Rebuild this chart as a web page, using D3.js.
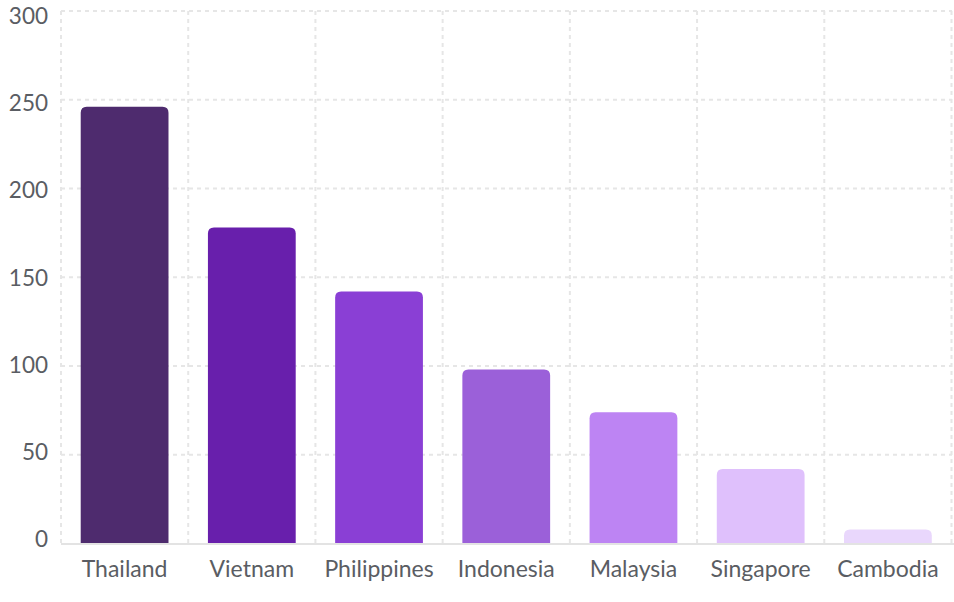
<!DOCTYPE html>
<html>
<head>
<meta charset="utf-8">
<script src="https://cdn.jsdelivr.net/npm/d3@7"></script>
<style>
  body { margin: 0; background: #fff; }
  text { font-family: Lato, "Open Sans", sans-serif; fill: #5a5d63; }
</style>
</head>
<body>
<script>
const width = 954, height = 602;
const margin = {top: 11, right: 2, bottom: 59, left: 61};

const countries = ["Thailand", "Vietnam", "Philippines", "Indonesia", "Malaysia", "Singapore", "Cambodia"];
const values = [246, 178, 142, 98, 74, 42, 8];
const colors = ["#4e2b6e", "#681fac", "#8a3fd5", "#9b60d9", "#bd84f3", "#dfc0fc", "#e9d7fc"];
const yTicks = [0, 50, 100, 150, 200, 250, 300];

const svg = d3.select("body").append("svg")
  .attr("width", width)
  .attr("height", height);

const x = d3.scaleBand()
  .domain(countries)
  .range([margin.left, width - margin.right - 0.5])
  .paddingInner(0.31)
  .paddingOuter(0.155);

const y = d3.scaleLinear()
  .domain([0, 300])
  .range([height - margin.bottom + 0.6, margin.top]);

// tick labels sit on a slightly tighter spacing than the grid
const yLabel = d3.scaleLinear()
  .domain([0, 300])
  .range([547, 24]);

// grid
const grid = svg.append("g")
  .attr("stroke", "#e6e6e6")
  .attr("stroke-width", 2)
  .attr("stroke-dasharray", "4,4");

grid.selectAll(".h")
  .data(yTicks.slice(1))
  .enter().append("line")
    .attr("x1", margin.left)
    .attr("x2", width - margin.right)
    .attr("y1", d => y(d))
    .attr("y2", d => y(d));

const edges = d3.range(countries.length + 1).map(i => margin.left + i * (width - margin.left - margin.right - 0.5) / countries.length);
grid.selectAll(".v")
  .data(edges)
  .enter().append("line")
    .attr("x1", d => d)
    .attr("x2", d => d)
    .attr("y1", margin.top)
    .attr("y2", y(0));

// bars with rounded tops
const r = 6;
function barPath(d, i) {
  const x0 = x(countries[i]), w = x.bandwidth();
  const y0 = y(d), yb = y(0);
  const rr = Math.min(r, (yb - y0));
  return `M${x0},${yb}V${y0 + rr}Q${x0},${y0} ${x0 + rr},${y0}H${x0 + w - rr}Q${x0 + w},${y0} ${x0 + w},${y0 + rr}V${yb}Z`;
}

svg.append("g").selectAll("path")
  .data(values)
  .enter().append("path")
    .attr("d", barPath)
    .attr("fill", (d, i) => colors[i]);

// baseline
svg.append("line")
  .attr("x1", margin.left)
  .attr("x2", width)
  .attr("y1", y(0) + 0.5)
  .attr("y2", y(0) + 0.5)
  .attr("stroke", "#e3e3e3")
  .attr("stroke-width", 2);

// y labels
svg.append("g").selectAll("text")
  .data(yTicks)
  .enter().append("text")
    .attr("x", 48)
    .attr("y", d => yLabel(d))
    .attr("text-anchor", "end")
    .attr("font-size", 22.5)
    .text(d => d);

// x labels
svg.append("g").selectAll("text")
  .data(countries)
  .enter().append("text")
    .attr("x", d => x(d) + x.bandwidth() / 2)
    .attr("y", 577)
    .attr("text-anchor", "middle")
    .attr("font-size", 23)
    .text(d => d);
</script>
</body>
</html>
